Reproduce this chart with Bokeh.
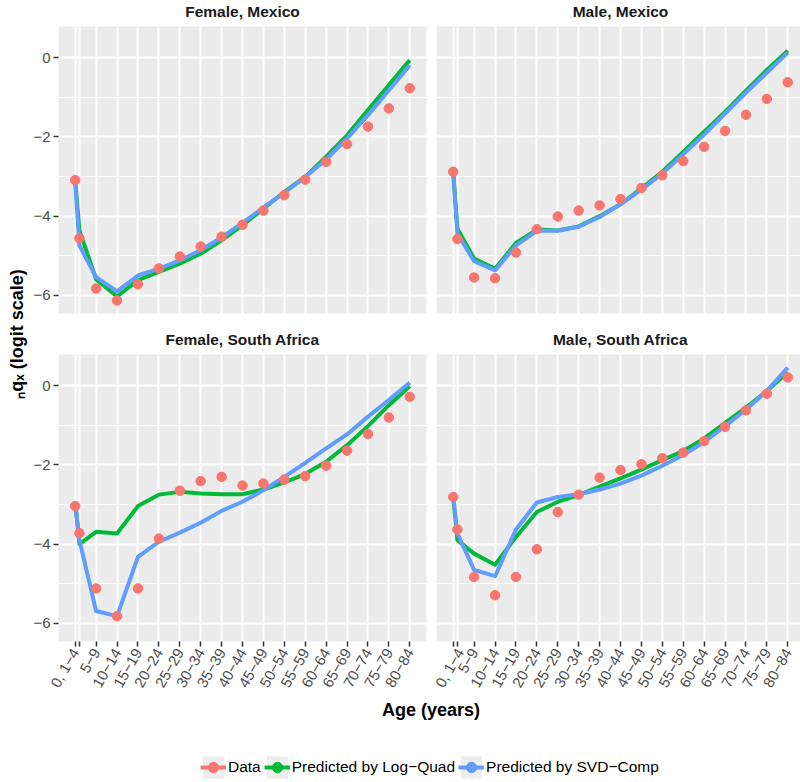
import math
from bokeh.plotting import figure
from bokeh.layouts import row, column
from bokeh.models import FixedTicker, Label, Legend, LegendItem, Range1d
from bokeh.embed import file_html
from bokeh.resources import INLINE

# ---------------- data ----------------
ages = [0, 1, 5, 10, 15, 20, 25, 30, 35, 40, 45, 50, 55, 60, 65, 70, 75, 80]
age_labels = ["0, 1−4", "", "5−9", "10−14", "15−19", "20−24", "25−29", "30−34",
              "35−39", "40−44", "45−49", "50−54", "55−59", "60−64", "65−69",
              "70−74", "75−79", "80−84"]
y_ticks = [-6, -4, -2, 0]
y_tick_labels = ["−6", "−4", "−2", "0"]
y_minor = [-5, -3, -1]
panel_titles = ["Female, Mexico", "Male, Mexico", "Female, South Africa", "Male, South Africa"]

# Female, Mexico
fm_data = [-3.09, -4.56, -5.83, -6.13, -5.72, -5.32, -5.02, -4.77, -4.52, -4.22,
           -3.86, -3.47, -3.08, -2.63, -2.18, -1.74, -1.28, -0.77]
fm_lq = [-3.09, -4.36, -5.60, -6.03, -5.62, -5.41, -5.20, -4.95, -4.61, -4.23,
         -3.81, -3.39, -3.01, -2.50, -1.96, -1.32, -0.69, -0.06]
fm_svd = [-3.15, -4.74, -5.54, -5.90, -5.50, -5.33, -5.12, -4.86, -4.54, -4.17,
          -3.78, -3.41, -3.01, -2.57, -2.04, -1.45, -0.82, -0.19]
# Male, Mexico
mm_data = [-2.88, -4.58, -5.55, -5.57, -4.92, -4.33, -4.01, -3.86, -3.73, -3.57,
           -3.29, -2.97, -2.61, -2.25, -1.85, -1.44, -1.04, -0.62]
mm_lq = [-2.88, -4.32, -5.07, -5.33, -4.68, -4.34, -4.36, -4.26, -4.00, -3.70,
         -3.30, -2.88, -2.38, -1.87, -1.37, -0.83, -0.31, 0.18]
mm_svd = [-2.92, -4.44, -5.14, -5.37, -4.74, -4.37, -4.37, -4.27, -4.02, -3.70,
          -3.33, -2.92, -2.44, -1.94, -1.41, -0.88, -0.38, 0.13]
# Female, South Africa
fs_data = [-3.04, -3.72, -5.12, -5.82, -5.12, -3.86, -2.65, -2.41, -2.30, -2.52,
           -2.47, -2.37, -2.28, -2.02, -1.64, -1.22, -0.80, -0.28]
fs_lq = [-2.93, -4.00, -3.69, -3.73, -3.04, -2.75, -2.68, -2.72, -2.74, -2.74,
         -2.62, -2.44, -2.23, -1.92, -1.50, -1.02, -0.49, -0.01]
fs_svd = [-2.98, -3.90, -5.69, -5.82, -4.32, -3.94, -3.71, -3.46, -3.16, -2.93,
          -2.64, -2.30, -1.95, -1.58, -1.23, -0.78, -0.36, 0.08]
# Male, South Africa
ms_data = [-2.81, -3.63, -4.83, -5.29, -4.83, -4.13, -3.19, -2.75, -2.32, -2.13,
           -1.98, -1.83, -1.69, -1.40, -1.04, -0.62, -0.20, 0.21]
ms_lq = [-2.81, -3.90, -4.24, -4.52, -3.82, -3.19, -2.93, -2.76, -2.55, -2.34,
         -2.12, -1.88, -1.65, -1.33, -0.94, -0.55, -0.13, 0.35]
ms_svd = [-2.81, -3.73, -4.65, -4.81, -3.63, -2.95, -2.81, -2.74, -2.62, -2.47,
          -2.27, -2.02, -1.75, -1.42, -1.02, -0.60, -0.13, 0.46]

series_names = ["Data", "Predicted by Log−Quad", "Predicted by SVD−Comp"]
C_DATA, C_LQ, C_SVD = "#F8766D", "#00BA38", "#619CFF"

FONT = "Liberation Sans"
PANEL_BG = "#EBEBEB"
TEXT_GREY = "#4D4D4D"

# shared scales (ggplot-style 5% expansion)
all_vals = fm_data + fm_lq + fm_svd + mm_data + mm_lq + mm_svd + fs_data + fs_lq + fs_svd + ms_data + ms_lq + ms_svd
ymin, ymax = min(all_vals), max(all_vals)
ypad = 0.05 * (ymax - ymin)
YR = (ymin - ypad, ymax + ypad)
xpad = 0.05 * (ages[-1] - ages[0])
X0 = ages[0] - xpad
X1 = ages[-1] + xpad

FRAME_W, FRAME_H = 368, 287
px_per_unit = FRAME_W / (X1 - X0)

YL_W = 28
LEFT_B = 30
GAP_HALF = 5
STRIP1_H, STRIP2_H = 26, 38
BOT_B2 = 58
TOP_H = FRAME_H + 3
BOT_H = FRAME_H + BOT_B2
LEFT_W = LEFT_B + FRAME_W + GAP_HALF
RIGHT_FRAME_W = 800 - YL_W - LEFT_W - GAP_HALF
RIGHT_W = GAP_HALF + RIGHT_FRAME_W


def bare(width, height):
    f = figure(width=width, height=height, x_range=Range1d(0, width), y_range=Range1d(0, height),
               output_backend="svg", toolbar_location=None, min_border=0,
               x_axis_location=None, y_axis_location=None)
    f.outline_line_color = None
    f.grid.visible = False
    return f


def strip(title, width, height, left_pad):
    s = bare(width, height)
    s.add_layout(Label(x=left_pad + FRAME_W / 2, y=15, x_units="screen", y_units="screen",
                       text=title, text_align="center", text_baseline="middle",
                       text_font=FONT, text_font_size="15.5px", text_font_style="bold",
                       text_color="#1A1A1A"))
    return s


def panel(data, lq, svd, width, frame_w, height, b_left, b_right, b_bottom, show_y, show_x):
    x_end = X0 + frame_w / px_per_unit
    p = figure(width=width, height=height, x_range=Range1d(X0, x_end), y_range=Range1d(*YR),
               output_backend="svg", toolbar_location=None,
               min_border_left=b_left, min_border_right=b_right,
               min_border_top=0, min_border_bottom=b_bottom)
    p.background_fill_color = PANEL_BG
    p.border_fill_color = "white"
    p.outline_line_color = None

    xt = FixedTicker(ticks=ages, minor_ticks=[])
    yt = FixedTicker(ticks=y_ticks, minor_ticks=y_minor)
    p.xaxis.ticker = xt
    p.yaxis.ticker = yt
    p.xgrid.ticker = xt
    p.ygrid.ticker = yt
    p.xgrid.grid_line_color = "white"
    p.xgrid.grid_line_width = 2
    p.ygrid.grid_line_color = "white"
    p.ygrid.grid_line_width = 2
    p.ygrid.minor_grid_line_color = "white"
    p.ygrid.minor_grid_line_width = 1

    for ax in (p.xaxis[0], p.yaxis[0]):
        ax.axis_line_color = None
        ax.major_tick_line_color = "#333333"
        ax.major_tick_line_width = 1.5
        ax.major_tick_in = 0
        ax.major_tick_out = 5
        ax.minor_tick_line_color = None
        ax.major_label_text_font = FONT
        ax.major_label_text_font_size = "15px"
        ax.major_label_text_color = TEXT_GREY
        ax.major_label_standoff = 3

    p.yaxis.major_label_overrides = {t: l for t, l in zip(y_ticks, y_tick_labels)}
    p.xaxis.major_label_overrides = {t: l for t, l in zip(ages, age_labels)}
    p.xaxis.major_label_orientation = math.pi / 3
    p.yaxis.visible = show_y
    p.xaxis.visible = show_x

    p.line(ages, lq, line_color=C_LQ, line_width=4, line_join="round")
    p.line(ages, svd, line_color=C_SVD, line_width=4, line_join="round")
    p.scatter(ages, data, size=9.5, fill_color=C_DATA, line_color=C_DATA)
    return p


s_tl = strip(panel_titles[0], LEFT_W, STRIP1_H, LEFT_B)
s_tr = strip(panel_titles[1], RIGHT_W, STRIP1_H, GAP_HALF)
s_bl = strip(panel_titles[2], LEFT_W, STRIP2_H, LEFT_B)
s_br = strip(panel_titles[3], RIGHT_W, STRIP2_H, GAP_HALF)

tl = panel(fm_data, fm_lq, fm_svd, LEFT_W, FRAME_W, TOP_H, LEFT_B, GAP_HALF, 3, True, False)
tr = panel(mm_data, mm_lq, mm_svd, RIGHT_W, RIGHT_FRAME_W, TOP_H, GAP_HALF, 0, 3, False, False)
bl = panel(fs_data, fs_lq, fs_svd, LEFT_W, FRAME_W, BOT_H, LEFT_B, GAP_HALF, BOT_B2, True, True)
br = panel(ms_data, ms_lq, ms_svd, RIGHT_W, RIGHT_FRAME_W, BOT_H, GAP_HALF, 0, BOT_B2, False, True)

# ---------------- y-axis title (spans both rows) ----------------
YL_H = STRIP1_H + TOP_H + STRIP2_H + BOT_H
yl = figure(width=YL_W, height=YL_H, x_range=Range1d(0, 1), y_range=Range1d(*YR),
            output_backend="svg", toolbar_location=None,
            min_border_left=YL_W - 1, min_border_right=0,
            min_border_top=STRIP1_H, min_border_bottom=BOT_B2, x_axis_location=None)
yl.outline_line_color = None
yl.background_fill_color = "white"
yl.grid.visible = False
yl.yaxis.ticker = FixedTicker(ticks=[], minor_ticks=[])
yl.yaxis.axis_line_color = None
yl.yaxis.major_tick_line_color = None
yl.yaxis.minor_tick_line_color = None
yl.yaxis.major_tick_out = 0
yl.yaxis.major_label_standoff = 0
yl.yaxis.axis_label = "ₙqₓ (logit scale)"
yl.yaxis.axis_label_text_font = FONT
yl.yaxis.axis_label_text_font_size = "18px"
yl.yaxis.axis_label_text_font_style = "bold"
yl.yaxis.axis_label_text_color = "#000000"
yl.yaxis.axis_label_standoff = 1

# ---------------- x-axis title + legend ----------------
BW, BH = 800, 782 - YL_H
bf = bare(BW, BH)
bf.add_layout(Label(x=430.5, y=BH - 10, x_units="screen", y_units="screen", text="Age (years)",
                    text_align="center", text_baseline="middle", text_font=FONT,
                    text_font_size="18px", text_font_style="bold", text_color="#000000"))

# legend proxies: placed outside the visible range so only the legend shows them
OFF = [-1000.0]
OFF2 = [-999.0]
items = []
for name, col in zip(series_names, [C_DATA, C_LQ, C_SVD]):
    bg = bf.quad(left=OFF, right=OFF2, bottom=OFF, top=OFF2, fill_color="#EDEDED", line_color=None)
    ln = bf.line(x=OFF + OFF2, y=OFF + OFF2, line_color=col, line_width=4)
    pt = bf.scatter(x=OFF, y=OFF, size=9, fill_color=col, line_color=col)
    items.append(LegendItem(label=name, renderers=[bg, ln, pt]))
legend = Legend(items=items, orientation="horizontal", location=(200, 1),
                label_text_font=FONT, label_text_font_size="15.5px", label_text_color="#000000",
                glyph_width=26, glyph_height=28, label_height=28, label_standoff=2, spacing=3,
                padding=0, margin=0, border_line_color=None, background_fill_alpha=0)
bf.add_layout(legend)

panels = column(row(s_tl, s_tr), row(tl, tr), row(s_bl, s_br), row(bl, br))
layout = column(row(yl, panels), bf)

open("out.html", "w").write(file_html(layout, INLINE))
